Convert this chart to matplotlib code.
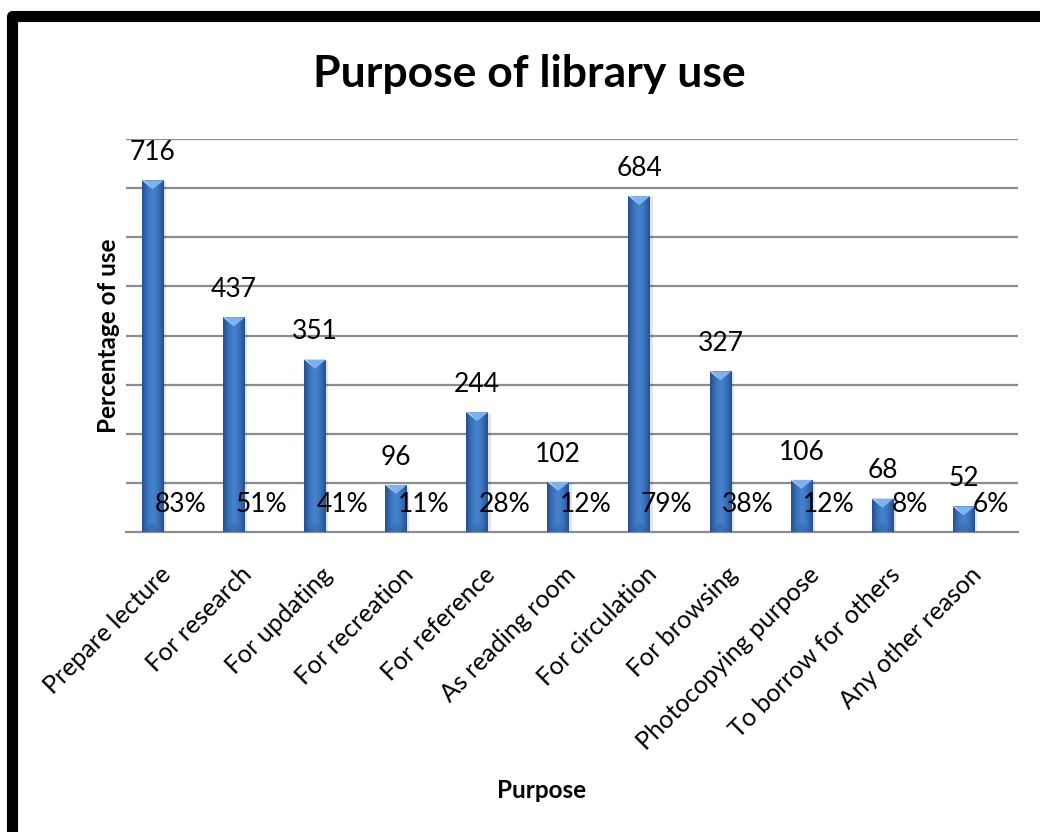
import numpy as np
import matplotlib.pyplot as plt
import matplotlib.transforms as mtransforms
from matplotlib.colors import LinearSegmentedColormap
from matplotlib.patches import Polygon, Rectangle

plt.rcParams["font.family"] = ["Lato", "DejaVu Sans"]

purposes = [
    "Prepare lecture", "For research", "For updating", "For recreation",
    "For reference", "As reading room", "For circulation", "For browsing",
    "Photocopying purpose", "To borrow for others", "Any other reason",
]
counts = [716, 437, 351, 96, 244, 102, 684, 327, 106, 68, 52]
shares = [83, 51, 41, 11, 28, 12, 79, 38, 12, 8, 6]   # percent of respondents

fig = plt.figure(figsize=(10.4, 8.32), dpi=100)
ax = fig.add_axes([0.1212, 0.3606, 0.8577, 0.4723])

x = np.arange(len(purposes))
off = 0.17
bw = 0.27

# horizontal shading across each column
shade = LinearSegmentedColormap.from_list(
    "col", ["#24508c", "#3a72bd", "#4683cf", "#3a72bd", "#24508c"])
grad = np.linspace(0, 1, 64).reshape(1, -1)

bars = ax.bar(x - off, counts, width=bw, color="#3a72bd", zorder=3)
pct_bars = ax.bar(x + off, np.array(shares) / 100, width=bw,
                  color="#3a72bd", zorder=3)

ax.set_xlim(-0.5, len(purposes) - 0.5)
ax.set_ylim(0, 800)
fig.canvas.draw()

# bevel height in data units (~9 px)
px_per_unit = ax.bbox.height / 800
bev = 9 / px_per_unit

for b in bars:
    x0, w, h = b.get_x(), b.get_width(), b.get_height()
    xc = x0 + w / 2
    # soft drop shadow
    ax.add_patch(Rectangle((x0 + 0.03, 0), w, h - 2, color="#000000",
                           alpha=0.10, lw=0, zorder=2))
    im = ax.imshow(grad, cmap=shade, extent=(x0, x0 + w, 0, h),
                   aspect="auto", zorder=3.5, interpolation="bicubic")
    im.set_clip_path(b)
    bv = min(bev, h / 2)
    ax.add_patch(Polygon([(x0, h), (x0 + w, h), (xc, h - bv)],
                         closed=True, color="#7cb2f0", lw=0, zorder=4))
    ax.add_patch(Polygon([(x0, h), (x0 + w * 0.12, h), (xc, h - bv)],
                         closed=True, color="#a8cdf6", lw=0, zorder=4.1))
    ax.add_patch(Polygon([(x0, 0), (x0 + w, 0), (xc, bv)],
                         closed=True, color="#2c5d9e", lw=0, zorder=4,
                         alpha=0.35))

for b, v in zip(bars, counts):
    ax.annotate(f"{v}", (b.get_x() + b.get_width() / 2, v),
                xytext=(0, 20), textcoords="offset points",
                ha="center", va="center", fontsize=19, zorder=6)

for b, v in zip(pct_bars, shares):
    ax.annotate(f"{v}%", (b.get_x() + b.get_width() / 2, v / 100),
                xytext=(0, 19.5), textcoords="offset points",
                ha="center", va="center", fontsize=19, zorder=6)

ax.set_yticks(np.arange(100, 801, 100))
ax.yaxis.grid(True, color="#8c8c8c", lw=1.6, zorder=0)
ax.tick_params(axis="y", left=False, labelleft=False)
ax.set_xticks(x)
ax.set_xticklabels(purposes, rotation=45, ha="right", va="top",
                   rotation_mode="anchor", fontsize=18)
ax.tick_params(axis="x", length=0, pad=22)
# nudge the slanted labels a little to the left
nudge = mtransforms.ScaledTranslation(-8 / 100, 0, fig.dpi_scale_trans)
for lbl in ax.get_xticklabels():
    lbl.set_transform(lbl.get_transform() + nudge)
for s in ["top", "right", "left"]:
    ax.spines[s].set_visible(False)
ax.spines["bottom"].set_color("#8c8c8c")
ax.spines["bottom"].set_linewidth(1.6)

ax.set_ylabel("Percentage of use", fontsize=17.5, fontweight="bold",
              labelpad=4)

fig.text(0.509, 0.911, "Purpose of library use", ha="center", va="center",
         fontsize=32, fontweight="bold")
fig.text(0.521, 0.05, "Purpose", ha="center", va="center",
         fontsize=17.5, fontweight="bold")

# thick black frame (open on the right)
fig.patches.append(Rectangle((11.5 / 1040, -0.01), 1.2, 1 - 16 / 832 + 0.01,
                             transform=fig.transFigure, fill=False,
                             edgecolor="black", lw=8, joinstyle="round"))

fig.savefig("out.png", dpi=100)
